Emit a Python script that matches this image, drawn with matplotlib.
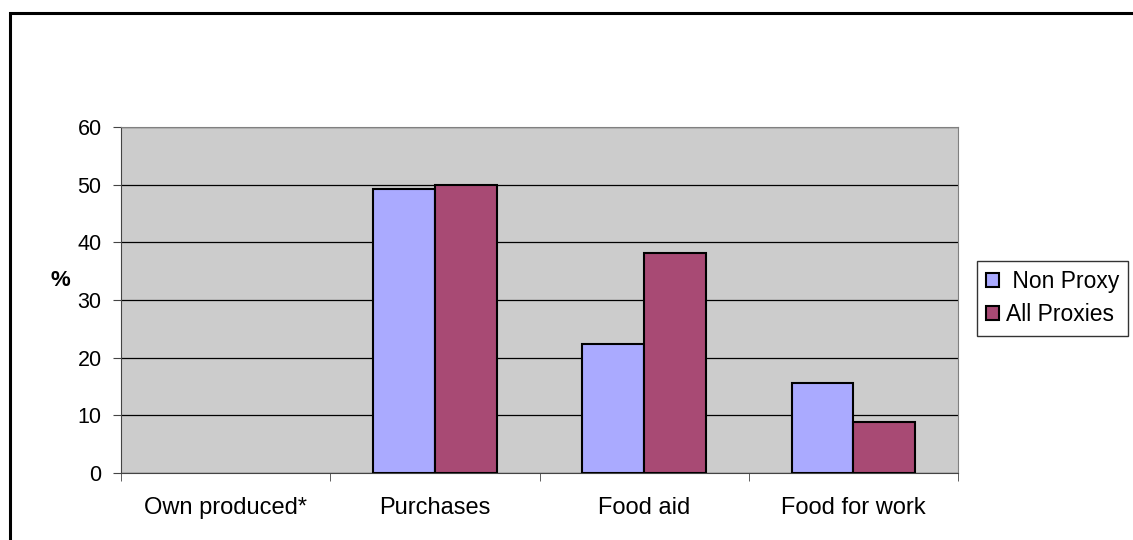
import matplotlib.pyplot as plt
import matplotlib.patches as mpatches
import numpy as np

categories = ["Own produced*", "Purchases", "Food aid", "Food for work"]
non_proxy = [0, 49.3, 22.3, 15.6]
all_proxies = [0, 50.0, 38.1, 8.8]
series_labels = [" Non Proxy", "All Proxies"]
colors = ["#AAAAFF", "#A84A74"]

plt.rcParams["font.family"] = ["Liberation Sans", "DejaVu Sans"]

W, H = 1133, 540
fig = plt.figure(figsize=(W / 100, H / 100), dpi=100)
ax = fig.add_axes([121 / W, 1 - 473 / H, (958 - 121) / W, (473 - 127) / H])

x = np.arange(len(categories))
w = 0.295
# no outline for empty bars
lw1 = [1.5 if v > 0 else 0 for v in non_proxy]
lw2 = [1.5 if v > 0 else 0 for v in all_proxies]
ax.bar(x - w / 2, non_proxy, w, color=colors[0], edgecolor="black", linewidth=lw1, zorder=3)
ax.bar(x + w / 2, all_proxies, w, color=colors[1], edgecolor="black", linewidth=lw2, zorder=3)

ax.set_facecolor("#CCCCCC")
ax.set_xlim(-0.5, len(categories) - 0.5)
ax.set_ylim(0, 60)
ax.set_yticks(range(0, 61, 10))
ax.yaxis.grid(True, color="black", linewidth=0.9, zorder=1)
ax.set_xticks(x)
ax.set_xticklabels(categories, fontsize=17)
ax.tick_params(axis="x", length=0, pad=17)
ax.set_xticks(np.arange(-0.5, len(categories)), minor=True)
ax.tick_params(axis="x", which="minor", length=6, direction="out", color="#444444")
ax.tick_params(axis="y", length=6, direction="out", labelsize=15.5, color="#444444", pad=8)
for s in ["top", "right"]:
    ax.spines[s].set_color("#808080")
for s in ["left", "bottom"]:
    ax.spines[s].set_color("#444444")

fig.text(60 / W, 1 - 280 / H, "%", fontsize=16, fontweight="bold", ha="center", va="center")

handles = [mpatches.Patch(facecolor=c, edgecolor="black", linewidth=1.5) for c in colors]
leg = fig.legend(handles, series_labels, loc="upper left", bbox_to_anchor=(977 / W, 1 - 261 / H),
                 frameon=True, fancybox=False, edgecolor="black", fontsize=16.5,
                 handlelength=0.55, handleheight=0.55, handletextpad=0.3,
                 borderpad=0.4, labelspacing=0.45, borderaxespad=0)
leg.get_frame().set_linewidth(1.0)

# outer chart frame (cut off on the right and bottom)
fig.patches.append(mpatches.Rectangle((10 / W, -0.05), 1.1, 1 - 12.5 / H + 0.05,
                                      transform=fig.transFigure, fill=False,
                                      edgecolor="black", linewidth=2.2))

fig.savefig("out.png", dpi=100)
